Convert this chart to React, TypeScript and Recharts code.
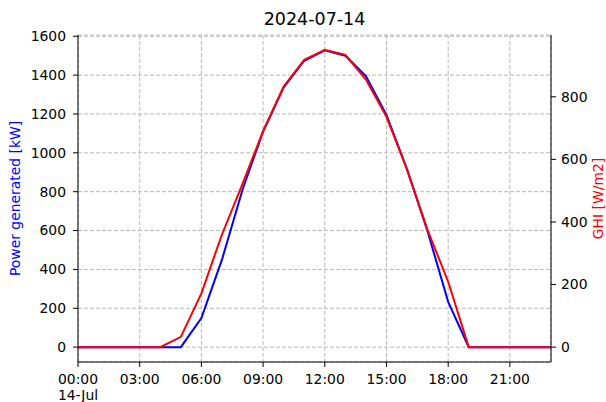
import { LineChart, Line, XAxis, YAxis, CartesianGrid } from 'recharts'

const hours = [0, 1, 2, 3, 4, 5, 6, 7, 8, 9, 10, 11, 12, 13, 14, 15, 16, 17, 18, 19, 20, 21, 22, 23]
const power = [0, 0, 0, 0, 0, 0, 150, 450, 810, 1110, 1337, 1474, 1528, 1500, 1395, 1195, 915, 595, 233, 0, 0, 0, 0, 0]
const ghi = [0, 0, 0, 0, 0, 33, 172, 360, 522, 690, 833, 918, 950, 934, 855, 736, 568, 374, 209, 0, 0, 0, 0, 0]
const xTicks = [0, 3, 6, 9, 12, 15, 18, 21]
const powerTicks = [0, 200, 400, 600, 800, 1000, 1200, 1400, 1600]
const ghiTicks = [0, 200, 400, 600, 800]

const data = hours.map((h, i) => ({ hour: h, power: power[i], ghi: ghi[i] }))

const FONT = 13.9

const fmtHour = (h: number) => `${String(h).padStart(2, '0')}:00`

function HourTick(props: any) {
  const { x, y, payload } = props
  return (
    <g>
      <text x={x} y={y + 17} textAnchor="middle" fontSize={FONT} fill="#000">
        {fmtHour(payload.value)}
      </text>
      {payload.value === 0 && (
        <text x={x} y={y + 33} textAnchor="middle" fontSize={FONT} fill="#000">
          14-Jul
        </text>
      )}
    </g>
  )
}

export default function App() {
  return (
    <div style={{ position: 'absolute', left: 0, top: 0, width: 606, height: 402, background: '#fff', fontFamily: 'DejaVu Sans' }}>
      <div style={{ position: 'absolute', left: 78, width: 473, top: 9, height: 20, lineHeight: '20px', textAlign: 'center', fontSize: 17.5, color: '#000' }}>
        2024-07-14
      </div>
      <LineChart
        width={606}
        height={402}
        data={data}
        margin={{ top: 35, right: 0, left: 0, bottom: 0 }}
        style={{ fontFamily: 'DejaVu Sans' }}
      >
        <CartesianGrid stroke="#b8b8b8" strokeDasharray="4 2" yAxisId="left" />
        <XAxis
          dataKey="hour"
          type="number"
          domain={[0, 23]}
          ticks={xTicks}
          height={40}
          tickSize={5}
          tickMargin={0}
          stroke="#000"
          tick={<HourTick />}
          allowDataOverflow
        />
        <XAxis xAxisId="top" orientation="top" dataKey="hour" type="number" domain={[0, 23]} height={0} tick={false} tickLine={false} stroke="#000" />
        <YAxis
          yAxisId="left"
          domain={[-76.5, 1606.5]}
          ticks={powerTicks}
          width={78}
          tickSize={5}
          tickMargin={7}
          stroke="#000"
          tick={{ fill: '#000', fontSize: FONT }}
          allowDataOverflow
          label={{ value: 'Power generated [kW]', angle: -90, position: 'center', dx: -24, fill: '#0000ff', fontSize: FONT }}
        />
        <YAxis
          yAxisId="right"
          orientation="right"
          domain={[-47.5, 997.5]}
          ticks={ghiTicks}
          width={55}
          tickSize={5}
          tickMargin={5}
          stroke="#000"
          tick={{ fill: '#000', fontSize: FONT }}
          allowDataOverflow
          label={{ value: 'GHI [W/m2]', angle: -90, position: 'center', dx: 20, fill: '#ff0000', fontSize: FONT }}
        />
        <Line yAxisId="left" dataKey="power" stroke="#0000ff" strokeWidth={2} dot={false} isAnimationActive={false} />
        <Line yAxisId="right" dataKey="ghi" stroke="#ff0000" strokeWidth={2} dot={false} isAnimationActive={false} />
      </LineChart>
    </div>
  )
}
